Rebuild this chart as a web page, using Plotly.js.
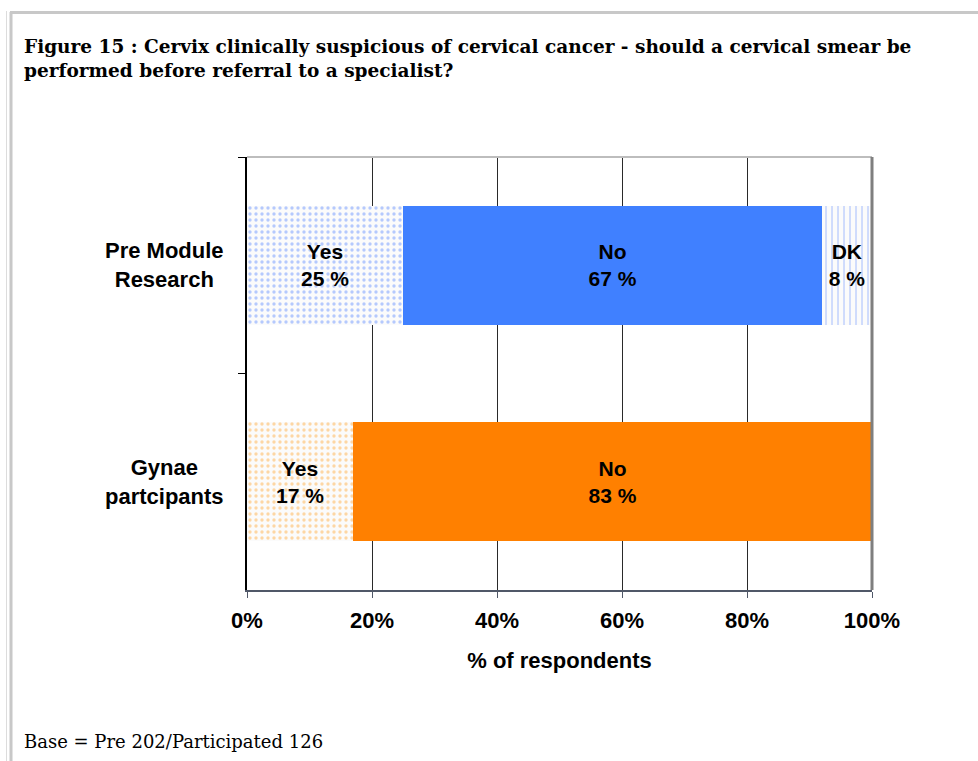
<!DOCTYPE html>
<html>
<head>
<meta charset="utf-8">
<script src="https://cdn.plot.ly/plotly-3.0.1.min.js"></script>
<style>
  html, body { margin: 0; padding: 0; background: #fff; }
  #chart { width: 978px; height: 761px; }
</style>
</head>
<body>
<div id="chart"></div>
<script>
// ---- data ----
const categories = ["Pre Module<br>Research", "Gynae<br>partcipants"];
const yesValues = [25, 17];
const noValues = [67, 83];
const dkValues = [8, 0];
const xTickValues = [0, 20, 40, 60, 80, 100];
const xTickLabels = ["0%", "20%", "40%", "60%", "80%", "100%"];
const titleText = "<b>Figure 15 : Cervix clinically suspicious of cervical cancer - should a cervical smear be<br>performed before referral to a specialist?</b>";
const xTitle = "% of respondents";
const baseNote = "Base = Pre 202/Participated 126";

// ---- styling ----
const solidColors = ["#4080ff", "#ff8000"];
const dotColors = ["#6f98ff", "#ffb24d"];
const sans = "Liberation Sans, Arial, sans-serif";
const labelFont = { family: sans, size: 21, color: "#000" };

function labels(name, vals) {
  return vals.map(v => v > 0 ? "<b>" + name + "<br>" + v + " %</b>" : "");
}

const common = {
  type: "bar",
  orientation: "h",
  y: categories,
  textposition: "inside",
  insidetextanchor: "middle",
  constraintext: "none",
  textfont: labelFont,
  hoverinfo: "skip",
  showlegend: false
};

const traces = [
  Object.assign({}, common, {
    name: "Yes",
    x: yesValues,
    text: labels("Yes", yesValues),
    texttemplate: "%{text}",
    marker: {
      color: "#fbfbff",
      line: { width: 0 },
      pattern: { shape: ".", fgcolor: dotColors, bgcolor: "#fbfbfb", size: 6, solidity: 0.25, fillmode: "overlay" }
    }
  }),
  Object.assign({}, common, {
    name: "No",
    x: noValues,
    text: labels("No", noValues),
    texttemplate: "%{text}",
    marker: { color: solidColors, line: { width: 0 } }
  }),
  Object.assign({}, common, {
    name: "DK",
    x: dkValues,
    text: labels("DK", dkValues),
    texttemplate: "%{text}",
    marker: {
      color: "#fbfbfb",
      line: { width: 0 },
      pattern: { shape: "|", fgcolor: "#4f7fff", bgcolor: "#fbfbfb", size: 6, solidity: 0.17, fillmode: "overlay" }
    }
  })
];

// helpers for pixel -> paper conversion
const L = 247, R = 106, T = 157, B = 171, W = 978, H = 761;
const pw = W - L - R, ph = H - T - B;
const px = x => (x - L) / pw;
const py = y => (H - B - y) / ph;

// category labels, centred multi-line, placed at each category
const catAnnotations = categories.map(c => ({
  text: "<b>" + c + "</b>",
  xref: "paper", yref: "y",
  x: px(226), y: c,
  xanchor: "right", yanchor: "middle",
  align: "center",
  showarrow: false,
  font: { family: sans, size: 22, color: "#000" }
}));

const layout = {
  width: W, height: H,
  margin: { l: L, r: R, t: T, b: B },
  paper_bgcolor: "#ffffff",
  plot_bgcolor: "#ffffff",
  barmode: "stack",
  bargap: 0.45,
  xaxis: {
    range: [0, 100],
    tickvals: xTickValues,
    ticktext: xTickLabels,
    ticks: "outside", ticklen: 6, tickcolor: "#505868", tickwidth: 1,
    showline: true, linecolor: "#505868", linewidth: 2,
    showgrid: true, gridcolor: "#2a2a2a", gridwidth: 1,
    zeroline: false,
    ticklabelstandoff: 4,
    tickfont: { family: sans, size: 22, color: "#000", weight: "bold" },
    title: { text: "<b>" + xTitle + "</b>", standoff: 20, font: { family: sans, size: 22, color: "#000" } },
    fixedrange: true
  },
  yaxis: {
    type: "category",
    categoryorder: "array",
    categoryarray: categories,
    autorange: "reversed",
    tickson: "boundaries",
    ticks: "outside", ticklen: 7, tickcolor: "#000", tickwidth: 1,
    showline: true, linecolor: "#000", linewidth: 2,
    showgrid: false,
    showticklabels: false,
    fixedrange: true
  },
  shapes: [
    { type: "line", xref: "paper", yref: "paper", x0: 0, x1: 1, y0: 1, y1: 1, line: { color: "#bdbdbd", width: 2 } },
    { type: "line", xref: "paper", yref: "paper", x0: 1, x1: 1, y0: 0, y1: 1, line: { color: "#7f7f7f", width: 3 } },
    { type: "line", xref: "paper", yref: "paper", x0: px(10), x1: px(W), y0: py(12.5), y1: py(12.5), line: { color: "#c8c8c8", width: 3 } },
    { type: "line", xref: "paper", yref: "paper", x0: px(11), x1: px(11), y0: py(12), y1: py(H), line: { color: "#c8c8c8", width: 3 } },
    { type: "line", xref: "paper", yref: "paper", x0: px(6.5), x1: px(6.5), y0: py(11), y1: py(H), line: { color: "#dcdcdc", width: 1 } }
  ],
  annotations: catAnnotations.concat([
    {
      text: titleText,
      xref: "paper", yref: "paper",
      x: px(22), y: py(58.5),
      xanchor: "left", yanchor: "middle",
      align: "left",
      showarrow: false,
      font: { family: "DejaVu Serif, serif", size: 18.5, color: "#000" }
    },
    {
      text: baseNote,
      xref: "paper", yref: "paper",
      x: px(22), y: py(741),
      xanchor: "left", yanchor: "middle",
      showarrow: false,
      font: { family: "DejaVu Serif, serif", size: 18, color: "#000" }
    }
  ])
};

Plotly.newPlot("chart", traces, layout, { displayModeBar: false, staticPlot: true });
</script>
</body>
</html>
